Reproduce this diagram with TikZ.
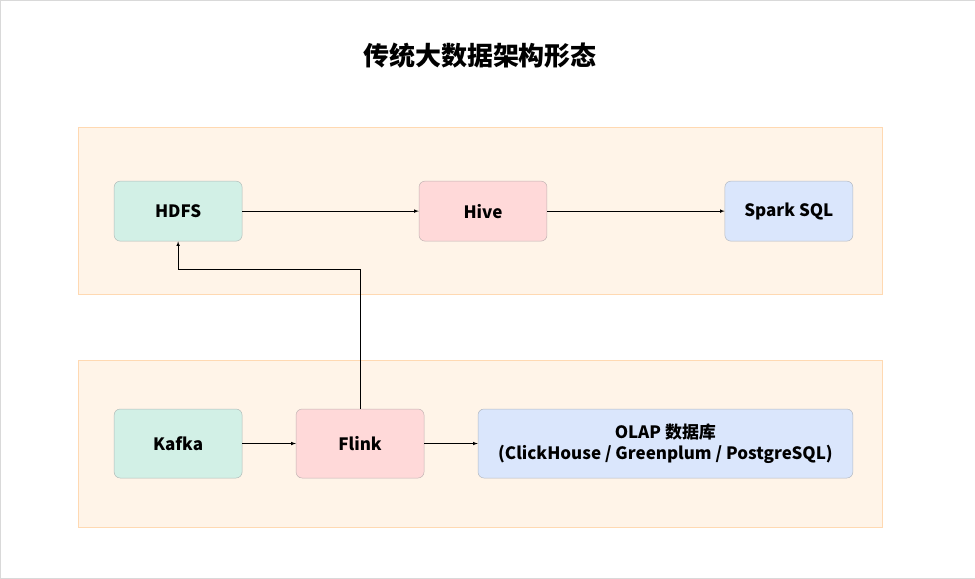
\documentclass[tikz,border=0pt]{standalone}
\usepackage{fontspec}
\setmainfont{Noto Sans CJK SC}
\begin{document}
\begin{tikzpicture}[x=1pt,y=-1pt,
 band/.style={draw=orange!30,fill=orange!9,line width=0.6pt},
 box/.style={draw=#1!60!black!60,rounded corners=6pt,line width=0.5pt,font=\fontsize{17}{21}\selectfont\bfseries,align=center,inner sep=0},
 arr/.style={-latex,line width=0.6pt}]
\definecolor{gr}{HTML}{D2F0E6}\definecolor{pk}{HTML}{FFD9D9}\definecolor{bl}{HTML}{DAE6FC}
\draw[black!15] (0,0) rectangle (975,578);
\useasboundingbox (0,0) rectangle (975,578);
\node[font=\fontsize{26}{30}\selectfont\bfseries] (title) at (480,55) {传统大数据架构形态};
\draw[band] (78,127) rectangle (882,294);
\draw[band] (78,360) rectangle (882,527);
\node[box=gr,fill=gr,minimum width=128,minimum height=60] (hdfs) at (178,211) {HDFS};
\node[box=pk,fill=pk,minimum width=128,minimum height=60] (hive) at (483,211) {Hive};
\node[box=bl,fill=bl,minimum width=128,minimum height=60] (spark) at (789,211) {Spark SQL};
\node[box=gr,fill=gr,minimum width=128,minimum height=69] (kafka) at (178,443.5) {Kafka};
\node[box=pk,fill=pk,minimum width=128,minimum height=69] (flink) at (360,443.5) {Flink};
\node[box=bl,fill=bl,minimum width=375,minimum height=69] (olap) at (665.5,443.5) {OLAP 数据库\\(ClickHouse / Greenplum / PostgreSQL)};
\draw[arr] (hdfs) -- (hive);
\draw[arr] (hive) -- (spark);
\draw[arr] (kafka) -- (flink);
\draw[arr] (flink) -- (olap);
\coordinate (c1) at (360,269);\coordinate (c2) at (178,269);
\draw[arr] (flink.north) -- (c1) -- (c2) -- (hdfs.south);
\end{tikzpicture}
\end{document}
